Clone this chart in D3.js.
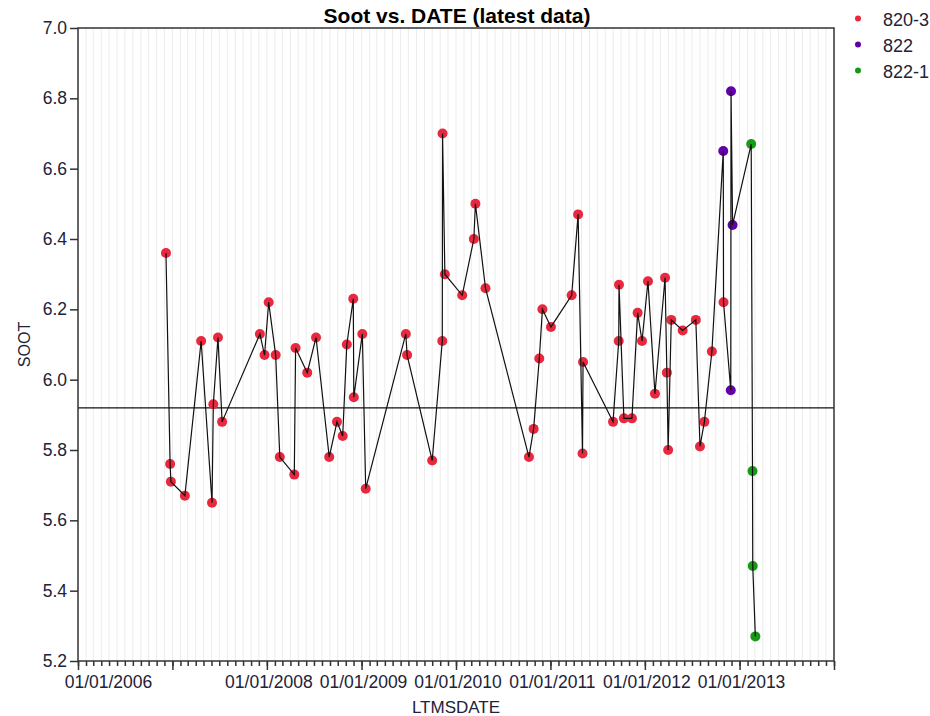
<!DOCTYPE html>
<html><head><meta charset="utf-8">
<script src="https://cdn.jsdelivr.net/npm/d3@7"></script>
<style>
html,body{margin:0;padding:0;background:#fff;}
text{font-family:"Liberation Sans",Arial,sans-serif;}
</style></head>
<body>
<svg id="chart" width="930" height="716"></svg>
<script>
// ---- data ----
const dates = ["2006-12-07","2006-12-23","2006-12-26","2007-02-18","2007-04-22","2007-06-03","2007-06-08","2007-06-26","2007-07-12",
"2007-12-05","2007-12-23","2008-01-08","2008-02-04","2008-02-20","2008-04-16","2008-04-21","2008-06-05","2008-07-09",
"2008-08-29","2008-09-28","2008-10-20","2008-11-05","2008-11-30","2008-12-02","2009-01-04","2009-01-17",
"2009-06-21","2009-06-26","2009-10-01","2009-11-09","2009-11-10","2009-11-19","2010-01-25","2010-03-11","2010-03-17","2010-04-25",
"2010-10-10","2010-10-28","2010-11-19","2010-12-01","2011-01-03","2011-03-24","2011-04-18","2011-05-05","2011-05-07",
"2011-08-31","2011-09-22","2011-09-23","2011-10-12","2011-11-12","2011-12-04","2011-12-21","2012-01-13","2012-02-09",
"2012-03-19","2012-03-26","2012-03-31","2012-04-12","2012-05-26","2012-07-16","2012-08-01","2012-08-18","2012-09-16",
"2012-10-30","2012-10-31","2012-11-28","2012-11-29","2012-12-05",
"2013-02-15","2013-02-20","2013-02-21","2013-03-03"];
const soot = [6.36,5.76,5.71,5.67,6.11,5.65,5.93,6.12,5.88,
6.13,6.07,6.22,6.07,5.78,5.73,6.09,6.02,6.12,
5.78,5.88,5.84,6.10,6.23,5.95,6.13,5.69,
6.13,6.07,5.77,6.11,6.70,6.30,6.24,6.40,6.50,6.26,
5.78,5.86,6.06,6.20,6.15,6.24,6.47,5.79,6.05,
5.88,6.11,6.27,5.89,5.89,6.19,6.11,6.28,5.96,
6.29,6.02,5.80,6.17,6.14,6.17,5.81,5.88,6.08,
6.65,6.22,5.97,6.82,6.44,
6.67,5.74,5.47,5.27];
const group = ["820-3","820-3","820-3","820-3","820-3","820-3","820-3","820-3","820-3",
"820-3","820-3","820-3","820-3","820-3","820-3","820-3","820-3","820-3",
"820-3","820-3","820-3","820-3","820-3","820-3","820-3","820-3",
"820-3","820-3","820-3","820-3","820-3","820-3","820-3","820-3","820-3","820-3",
"820-3","820-3","820-3","820-3","820-3","820-3","820-3","820-3","820-3",
"820-3","820-3","820-3","820-3","820-3","820-3","820-3","820-3","820-3",
"820-3","820-3","820-3","820-3","820-3","820-3","820-3","820-3","820-3",
"822","820-3","822","822","822",
"822-1","822-1","822-1","822-1"];
const seriesNames = ["820-3","822","822-1"];
const seriesColors = ["#e8283f","#6400a8","#179a17"];
const referenceLine = 5.92;
const yTicks = [5.2,5.4,5.6,5.8,6.0,6.2,6.4,6.6,6.8,7.0];
const xTickLabels = ["01/01/2006","","01/01/2008","01/01/2009","01/01/2010","01/01/2011","01/01/2012","01/01/2013",""];
const chartTitle = "Soot vs. DATE (latest data)";
const xTitle = "LTMSDATE", yTitle = "SOOT";

// ---- layout ----
const M = {left:78, right:834, top:28, bottom:661};
const svg = d3.select("#chart");
const parse = d3.utcParse("%Y-%m-%d");
const data = dates.map((d,i)=>({date:parse(d), v:soot[i], g:group[i]}));

const x = d3.scaleUtc().domain([Date.UTC(2006,0,1), Date.UTC(2014,0,1)]).range([M.left, M.right]);
const y = d3.scaleLinear().domain([5.2,7.0]).range([M.bottom, M.top]);
const color = d3.scaleOrdinal().domain(seriesNames).range(seriesColors);

// monthly gridlines
const months = d3.utcMonth.range(x.domain()[0], x.domain()[1]).slice(1);
svg.append("g").selectAll("line").data(months).join("line")
  .attr("x1",d=>x(d)).attr("x2",d=>x(d)).attr("y1",M.top).attr("y2",M.bottom)
  .attr("stroke","#ececec").attr("stroke-width",1);

// reference line
svg.append("line").attr("x1",M.left).attr("x2",M.right)
  .attr("y1",y(referenceLine)).attr("y2",y(referenceLine))
  .attr("stroke","#111").attr("stroke-width",1.2);

// points
svg.append("g").selectAll("circle").data(data).join("circle")
  .attr("cx",d=>x(d.date)).attr("cy",d=>y(d.v)).attr("r",5)
  .attr("fill",d=>color(d.g));

// connecting line
svg.append("path").datum(data)
  .attr("d", d3.line().x(d=>x(d.date)).y(d=>y(d.v)))
  .attr("fill","none").attr("stroke","#111").attr("stroke-width",1.2);

// frame
svg.append("rect").attr("x",M.left).attr("y",M.top).attr("width",M.right-M.left).attr("height",M.bottom-M.top)
  .attr("fill","none").attr("stroke","#333").attr("stroke-width",1.5);

// y axis
const yAxis = svg.append("g").attr("transform",`translate(${M.left},0)`)
  .call(d3.axisLeft(y).tickValues(yTicks).tickFormat(d3.format(".1f")).tickSize(8).tickPadding(3));
yAxis.select(".domain").remove();
yAxis.selectAll("line").attr("stroke","#333").attr("stroke-width",1.5);
yAxis.selectAll("text").attr("font-size","17.5px").attr("fill","#222238").attr("font-family","Liberation Sans, Arial, sans-serif");

// x axis minor ticks
const allMonths = d3.utcMonth.range(x.domain()[0], d3.utcDay.offset(x.domain()[1],1));
const xAxisMinor = svg.append("g").attr("transform",`translate(0,${M.bottom})`)
  .call(d3.axisBottom(x).tickValues(allMonths).tickSize(5).tickFormat(""));
xAxisMinor.select(".domain").remove();
xAxisMinor.selectAll("line").attr("stroke","#333").attr("stroke-width",1.5);

// x axis major ticks
const years = d3.utcYear.range(x.domain()[0], d3.utcDay.offset(x.domain()[1],1));
const xAxis = svg.append("g").attr("transform",`translate(0,${M.bottom})`)
  .call(d3.axisBottom(x).tickValues(years).tickSize(9).tickPadding(6).tickFormat((d,i)=>xTickLabels[i]));
xAxis.select(".domain").remove();
xAxis.selectAll("line").attr("stroke","#333").attr("stroke-width",1.5);
xAxis.selectAll("text").attr("font-size","17.5px").attr("fill","#222238").attr("font-family","Liberation Sans, Arial, sans-serif")
  .attr("dx",(d,i)=> i===0 ? 30 : 1.5);

// titles
svg.append("text").attr("x",(M.left+M.right)/2+1).attr("y",23).attr("text-anchor","middle")
  .attr("font-size","21px").attr("font-weight","bold").attr("fill","#000").text(chartTitle);
svg.append("text").attr("x",(M.left+M.right)/2).attr("y",713).attr("text-anchor","middle")
  .attr("font-size","17px").attr("fill","#222238").text(xTitle);
svg.append("text").attr("transform",`translate(30,${(M.top+M.bottom)/2}) rotate(-90)`).attr("text-anchor","middle")
  .attr("font-size","16px").attr("fill","#222238").text(yTitle);

// legend
const lg = svg.append("g").selectAll("g").data(seriesNames).join("g")
  .attr("transform",(d,i)=>`translate(858,${18.5+i*26})`);
lg.append("circle").attr("r",3).attr("fill",d=>color(d));
lg.append("text").attr("x",25).attr("y",7).attr("font-size","18px").attr("fill","#222238").text(d=>d);
</script>
</body></html>
